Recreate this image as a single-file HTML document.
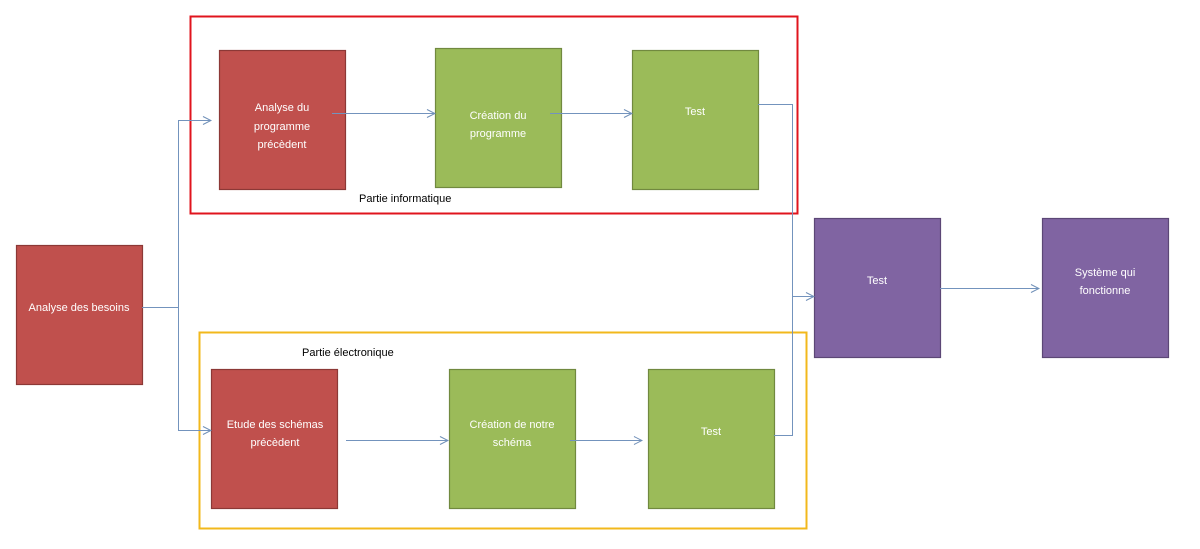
<!DOCTYPE html>
<html><head><meta charset="utf-8"><style>
body{margin:0;background:#fff;width:1200px;height:544px;overflow:hidden;font-family:"Liberation Sans",sans-serif}
</style></head><body>
<svg width="1200" height="544" xmlns="http://www.w3.org/2000/svg" font-family="Liberation Sans, sans-serif" font-size="11">
<defs><marker id="a" markerWidth="10" markerHeight="10" refX="9" refY="5" orient="auto" markerUnits="userSpaceOnUse"><path d="M1,1 L9,5 L1,9" fill="none" stroke="#6f8fb8" stroke-width="1"/></marker></defs>
<rect x="190.5" y="16.5" width="607" height="197" fill="none" stroke="#e0141e" stroke-width="2"/>
<rect x="199.5" y="332.5" width="607" height="196" fill="none" stroke="#f2b81c" stroke-width="2"/>
<g stroke-width="1.2">
<rect x="16.5" y="245.5" width="126" height="139" fill="#c0504d" stroke="#8c3836"/>
<rect x="219.5" y="50.5" width="126" height="139" fill="#c0504d" stroke="#8c3836"/>
<rect x="435.5" y="48.5" width="126" height="139" fill="#9bbb59" stroke="#71893f"/>
<rect x="632.5" y="50.5" width="126" height="139" fill="#9bbb59" stroke="#71893f"/>
<rect x="211.5" y="369.5" width="126" height="139" fill="#c0504d" stroke="#8c3836"/>
<rect x="449.5" y="369.5" width="126" height="139" fill="#9bbb59" stroke="#71893f"/>
<rect x="648.5" y="369.5" width="126" height="139" fill="#9bbb59" stroke="#71893f"/>
<rect x="814.5" y="218.5" width="126" height="139" fill="#8064a2" stroke="#5c4776"/>
<rect x="1042.5" y="218.5" width="126" height="139" fill="#8064a2" stroke="#5c4776"/>
</g>
<g fill="none" stroke="#7393bd" stroke-width="1">
<path d="M142,307.5 H178.5 V120.5 H211" marker-end="url(#a)"/>
<path d="M178.5,307 V430.5 H211" marker-end="url(#a)"/>
<path d="M332,113.5 H435" marker-end="url(#a)"/>
<path d="M550,113.5 H632" marker-end="url(#a)"/>
<path d="M758,104.5 H792.5 V296.5 H814" marker-end="url(#a)"/>
<path d="M774,435.5 H792.5 V296"/>
<path d="M346,440.5 H448" marker-end="url(#a)"/>
<path d="M570,440.5 H642" marker-end="url(#a)"/>
<path d="M940,288.5 H1039" marker-end="url(#a)"/>
</g>
<g fill="#fff" text-anchor="middle">
<text x="79" y="311">Analyse des besoins</text>
<text x="282" y="111">Analyse du</text><text x="282" y="130">programme</text><text x="282" y="148">précèdent</text>
<text x="498" y="119">Création du</text><text x="498" y="137">programme</text>
<text x="695" y="115">Test</text>
<text x="275" y="475" dy="-47">Etude des schémas</text><text x="275" y="446">précèdent</text>
<text x="512" y="428">Création de notre</text><text x="512" y="446">schéma</text>
<text x="711" y="435">Test</text>
<text x="877" y="284">Test</text>
<text x="1105" y="276">Système qui</text><text x="1105" y="294">fonctionne</text>
</g>
<text x="359" y="202" fill="#000">Partie informatique</text>
<text x="302" y="356" fill="#000">Partie électronique</text>
</svg>
</body></html>
